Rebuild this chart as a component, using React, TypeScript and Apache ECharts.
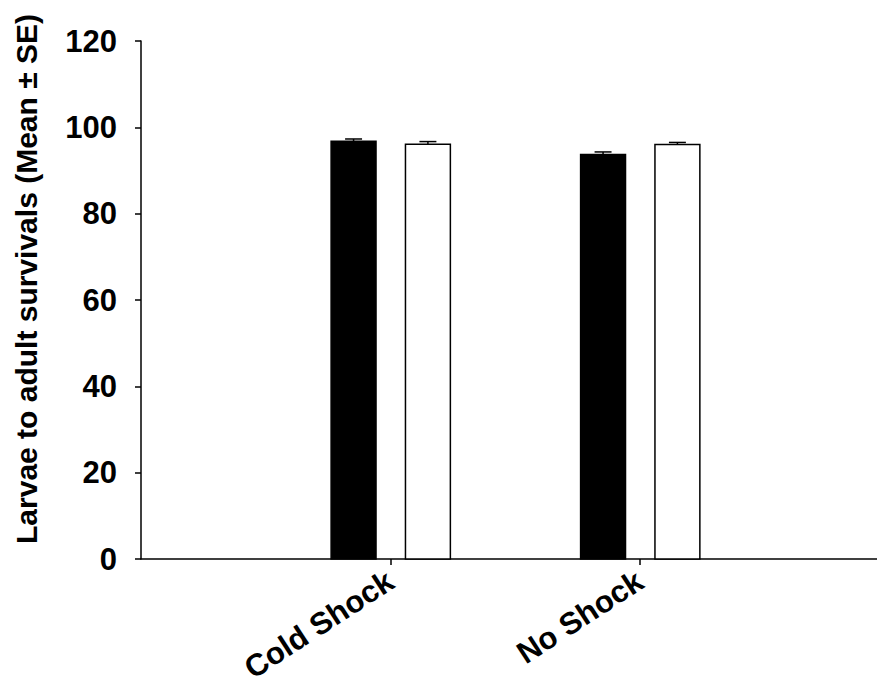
import React, { useEffect, useRef } from "react";
import * as echarts from "echarts";

const categories = ["Cold Shock", "No Shock"];
const groupNames = ["Group 1", "Group 2"];
const blackMeans = [96.8, 93.7];
const blackSE = [0.5, 0.6];
const whiteMeans = [96.1, 96.0];
const whiteSE = [0.6, 0.5];
const yTicks = [0, 20, 40, 60, 80, 100, 120];

const FONT = '"Liberation Sans", Arial, sans-serif';

function makeRender(offset: number, fill: string) {
  const barW = 0.18;
  const capW = 0.068;
  return (params: any, api: any) => {
    const x = api.value(0) + offset;
    const m = api.value(1);
    const se = api.value(2);
    const base = api.coord([x, 0]);
    const top = api.coord([x, m]);
    const errTop = api.coord([x, m + se]);
    const w = api.size([barW, 0])[0];
    const cw = api.size([capW, 0])[0];
    return {
      type: "group",
      children: [
        {
          type: "line",
          shape: { x1: top[0], y1: top[1], x2: errTop[0], y2: errTop[1] },
          style: { stroke: "#000", lineWidth: 1.5 },
        },
        {
          type: "line",
          shape: { x1: errTop[0] - cw / 2, y1: errTop[1], x2: errTop[0] + cw / 2, y2: errTop[1] },
          style: { stroke: "#000", lineWidth: 1.5 },
        },
        {
          type: "rect",
          shape: { x: base[0] - w / 2, y: top[1], width: w, height: base[1] - top[1] },
          style: { fill, stroke: "#000", lineWidth: 1.5 },
        },
      ],
    };
  };
}

export default function App() {
  const ref = useRef<HTMLDivElement>(null);
  useEffect(() => {
    if (!ref.current) return;
    const chart = echarts.init(ref.current, null, { renderer: "svg" });
    chart.setOption({
      animation: false,
      backgroundColor: "#fff",
      grid: {
        left: 141,
        right: 0,
        top: 41,
        bottom: 128,
        containLabel: false,
        outerBoundsMode: "none",
      },
      xAxis: {
        type: "value",
        min: 0,
        max: 2.95,
        interval: 1,
        splitLine: { show: false },
        axisLine: { show: true, onZero: false, lineStyle: { color: "#000", width: 1.5 } },
        axisTick: { show: true, customValues: [1, 2], length: 6, lineStyle: { color: "#000", width: 1.5 } },
        axisLabel: {
          customValues: [1, 2],
          rotate: 33,
          margin: 19,
          color: "#000",
          fontFamily: FONT,
          fontWeight: "bold",
          fontSize: 31,
          formatter: (v: number) => categories[Math.round(v) - 1] || "",
        },
      },
      yAxis: {
        type: "value",
        min: 0,
        max: 120,
        interval: 20,
        name: "Larvae to adult survivals (Mean ± SE)",
        nameLocation: "middle",
        nameGap: 100,
        nameRotate: 90,
        nameTextStyle: {
          color: "#000",
          fontFamily: FONT,
          fontWeight: "bold",
          fontSize: 30,
          padding: [0, 0, 0, 42],
        },
        splitLine: { show: false },
        axisLine: { show: true, lineStyle: { color: "#000", width: 1.5 } },
        axisTick: { show: true, length: 6, lineStyle: { color: "#000", width: 1.5 } },
        axisLabel: {
          margin: 24,
          color: "#000",
          fontFamily: FONT,
          fontWeight: "bold",
          fontSize: 31,
          customValues: yTicks,
        },
      },
      series: [
        {
          type: "custom",
          name: groupNames[0],
          renderItem: makeRender(-0.148, "#000"),
          data: categories.map((c, i) => [i + 1, blackMeans[i], blackSE[i]]),
          encode: { x: 0, y: 1 },
        },
        {
          type: "custom",
          name: groupNames[1],
          renderItem: makeRender(0.15, "#fff"),
          data: categories.map((c, i) => [i + 1, whiteMeans[i], whiteSE[i]]),
          encode: { x: 0, y: 1 },
        },
      ],
    });
    return () => chart.dispose();
  }, []);
  return (
    <div
      ref={ref}
      style={{ position: "fixed", left: 0, top: 0, width: 877, height: 687, background: "#fff" }}
    />
  );
}
